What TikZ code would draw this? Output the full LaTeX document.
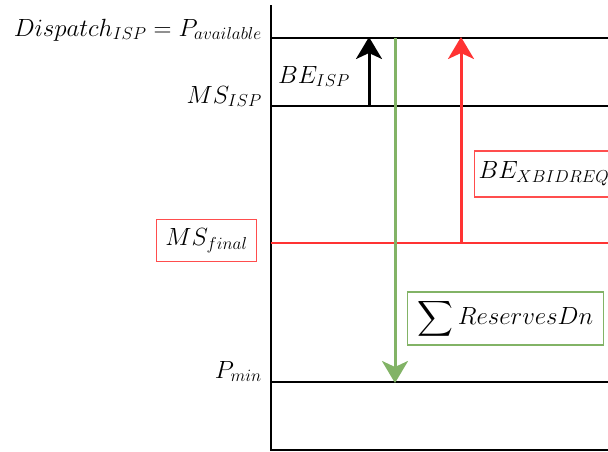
\documentclass[tikz,border=0pt]{standalone}
\usepackage{amsmath}
\usetikzlibrary{arrows.meta}
\definecolor{myred}{HTML}{FF3333}
\definecolor{boxred}{HTML}{FF4D4D}
\definecolor{mygreen}{HTML}{82B366}
\begin{document}
\begin{tikzpicture}[x=1pt,y=-1pt,
  every node/.style={font=\fontsize{25}{30}\selectfont},
  level/.style={line width=1.6pt,black},
  redlevel/.style={line width=2.8pt,myred},
  lbl/.style={anchor=base east,inner sep=0pt},
  tagbox/.style={draw,line width=1.3pt,inner sep=9pt},
  uparrow/.style={line width=3pt,-{Stealth[length=22pt,width=26pt,inset=6pt]}}]
\useasboundingbox (0,0) rectangle (608,451);
% axis and level lines
\coordinate (axtop) at (271,5);
\coordinate (axbot) at (271,451);
\coordinate (l1a) at (271,38);  \coordinate (l1b) at (610,38);
\coordinate (l2a) at (271,106); \coordinate (l2b) at (610,106);
\coordinate (l3a) at (271,243); \coordinate (l3b) at (610,243);
\coordinate (l4a) at (271,382); \coordinate (l4b) at (610,382);
\coordinate (l5a) at (271,450); \coordinate (l5b) at (610,450);
\draw[level] (axtop) -- (axbot);
\draw[level] (l1a) -- (l1b);
\draw[level] (l2a) -- (l2b);
\draw[level] (l4a) -- (l4b);
\draw[level] (l5a) -- (l5b);
\draw[redlevel] (l3a) -- (l3b);
% arrows
\coordinate (bk0) at (369,106); \coordinate (bk1) at (369,37);
\coordinate (gr0) at (395,38);  \coordinate (gr1) at (395,383);
\coordinate (rd0) at (461,243); \coordinate (rd1) at (461,37);
\draw[uparrow,black] (bk0) -- (bk1);
\draw[uparrow,mygreen] (gr0) -- (gr1);
\draw[uparrow,myred] (rd0) -- (rd1);
% labels
\node[lbl] (disp) at (262,36) {$Dispatch_{ISP}=P_{available}$};
\node[lbl] (msisp) at (262,103) {$MS_{ISP}$};
\node[lbl] (pmin) at (262,378) {$P_{min}$};
\node[anchor=base west,inner sep=0pt] (beisp) at (278,83) {$BE_{ISP}$};
\node[tagbox,boxred,text=black,minimum height=41pt] (msfin) at (206.5,240.5) {$MS_{final}$};
\node[tagbox,boxred,text=black,anchor=west,inner xsep=4pt,minimum height=46pt] (bex) at (474,174) {$BE_{XBIDREQ}$};
\node[tagbox,mygreen,text=black,inner xsep=10pt,inner ysep=6pt,minimum width=195pt,minimum height=53pt] (res) at (505.5,318.5) {$\displaystyle\sum ReservesDn$};
\end{tikzpicture}
\end{document}
